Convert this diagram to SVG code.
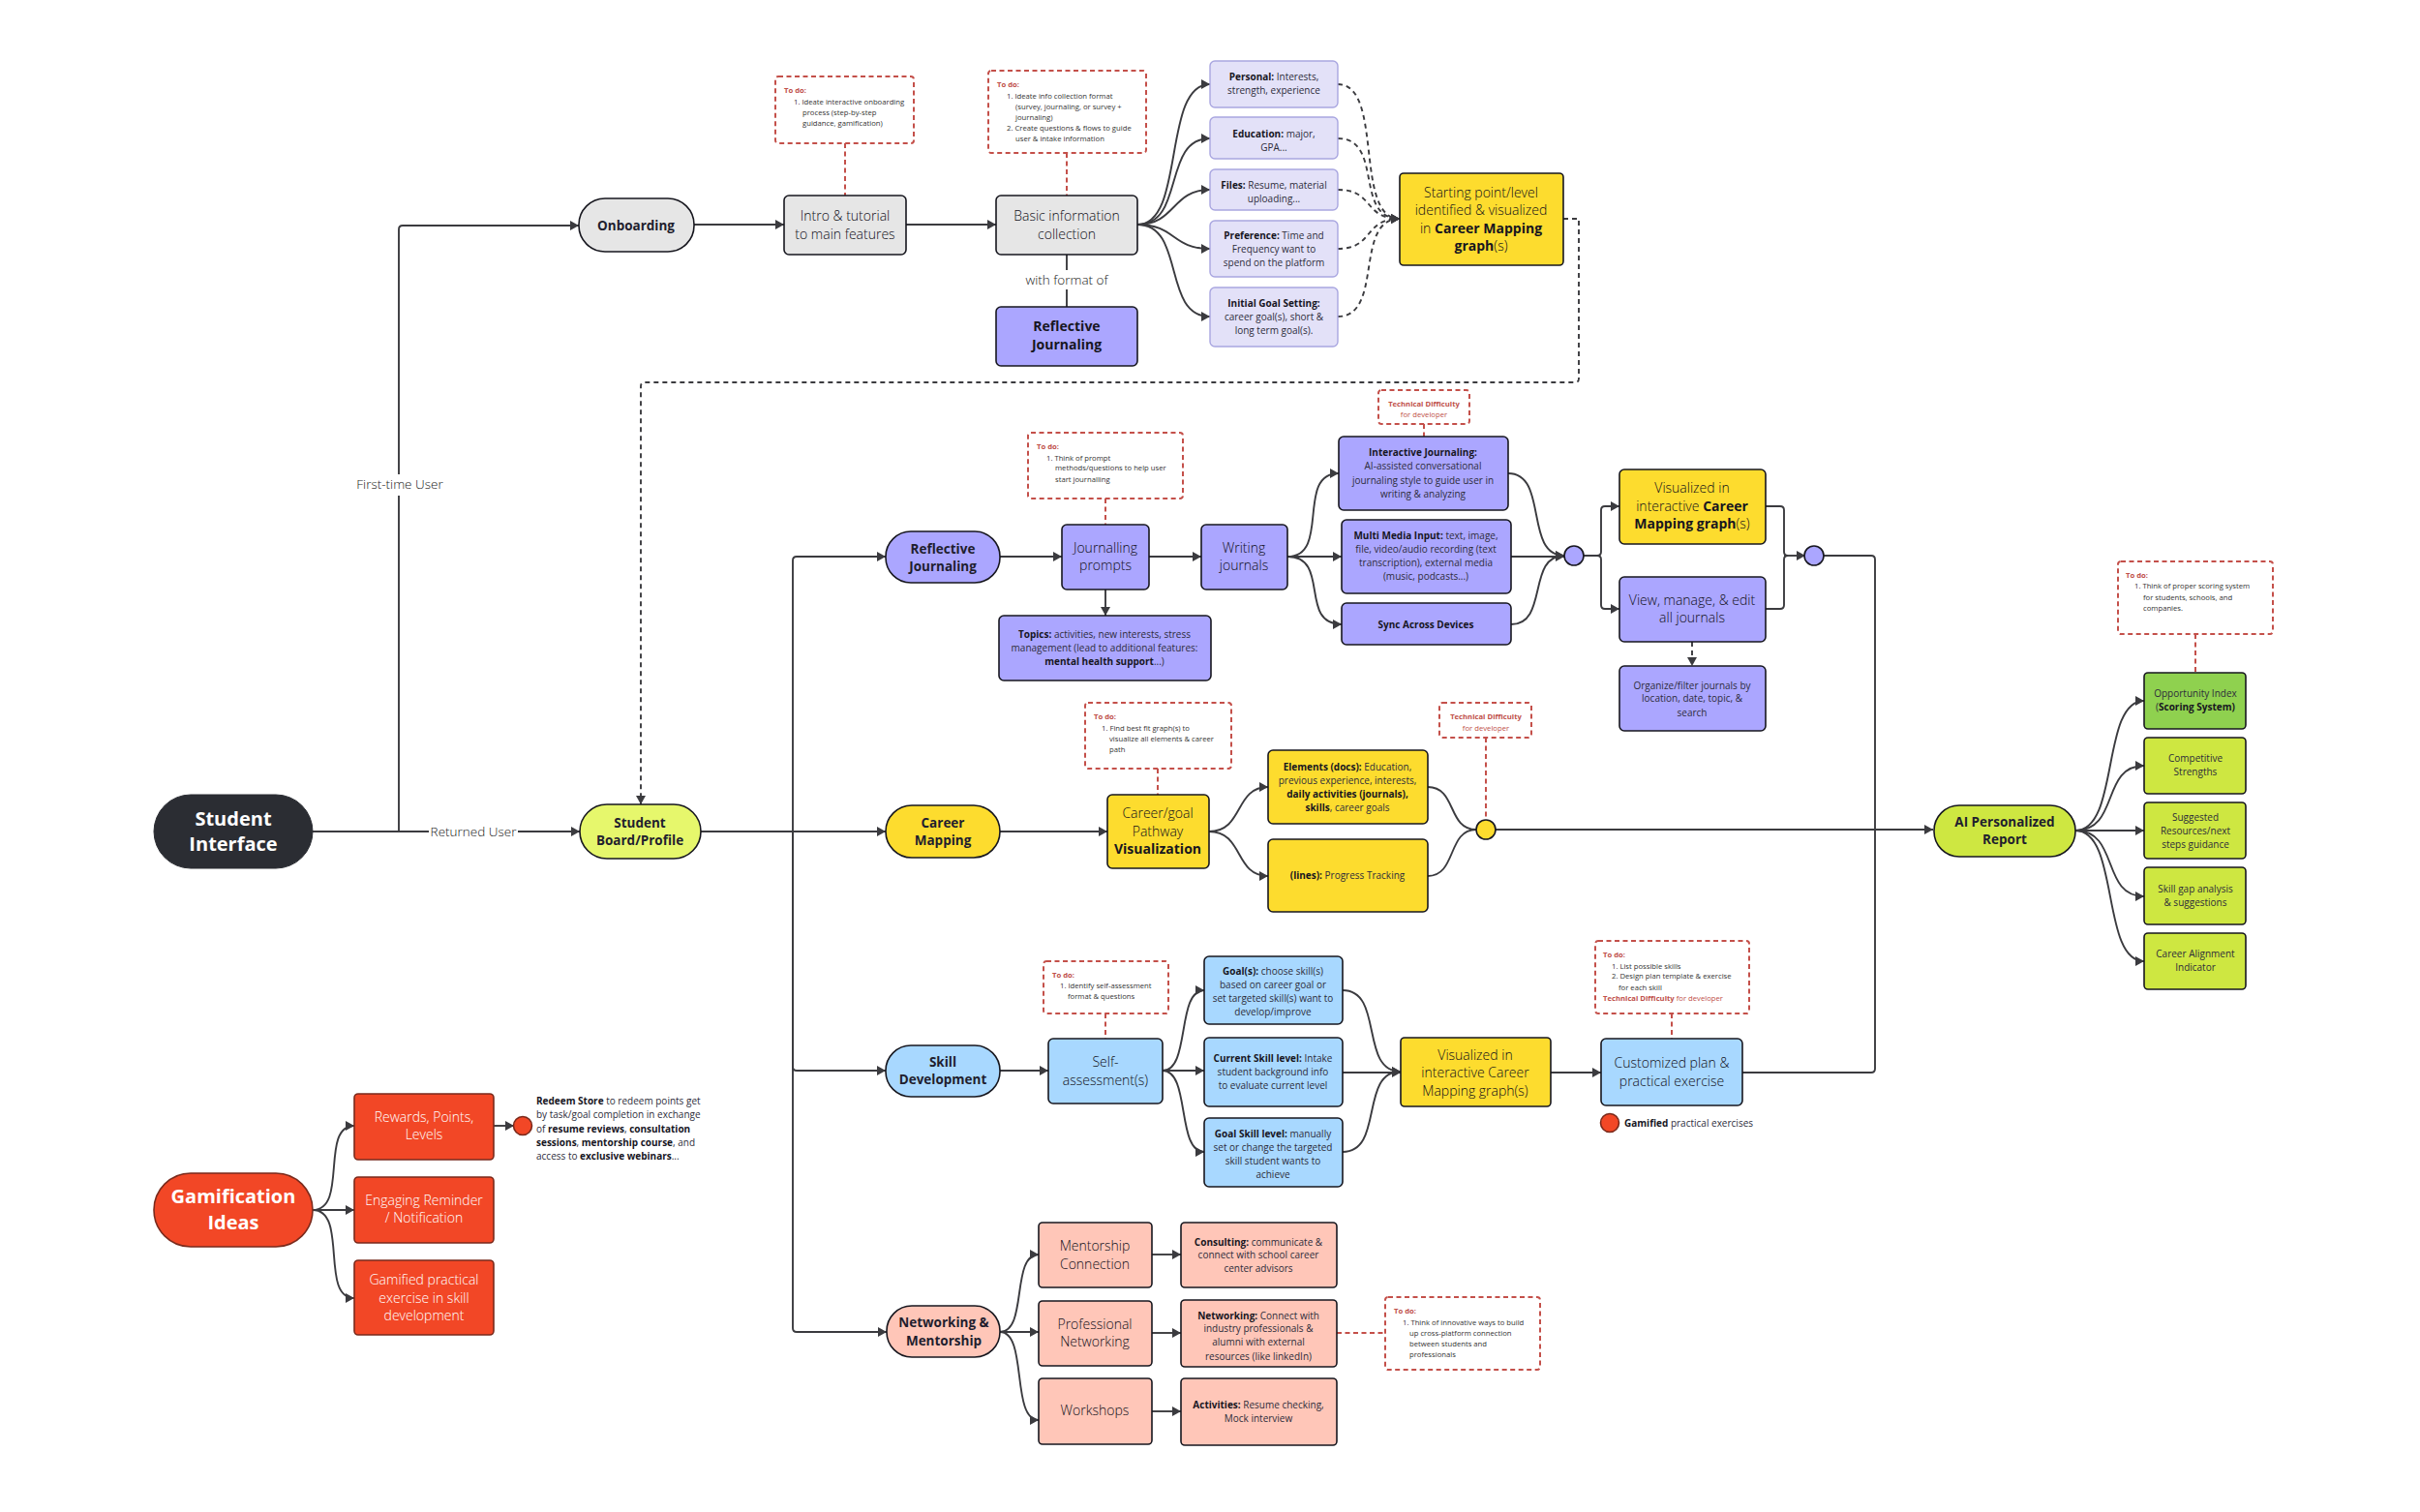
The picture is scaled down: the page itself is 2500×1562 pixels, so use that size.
<svg xmlns="http://www.w3.org/2000/svg" width="2500" height="1562" viewBox="0 0 2500 1562">
<style>
text{font-family:"Open Sans","Noto Sans","Liberation Sans",sans-serif;fill:#2d2c3a}
.c{text-anchor:middle}
.m{font-size:14px;font-weight:300;fill:#100f18}.s{font-size:10px}.n{font-size:7.7px;fill:#333}.l{font-size:13.5px;fill:#181818;font-weight:300}
.p{font-size:13.5px;font-weight:700;text-anchor:middle;fill:#1f1e2e}.h{font-size:20px;font-weight:700;text-anchor:middle;fill:#fff}
.w{fill:#fff}.b{font-weight:700;fill:#17161f}.r{fill:#c0504a;font-weight:700}.rn{fill:#c0504a}
.nd{stroke:#17171f;stroke-width:1.6}
.gray{fill:#e6e6e6}.pur{fill:#aba6ff}.lil{fill:#e3e1f8;stroke:#a9a6e0;stroke-width:1.4}.yel{fill:#fddc2e}.blu{fill:#a8d8ff}.pnk{fill:#ffc6b8}.lim{fill:#cee741}.grn{fill:#8fd14f}.red{fill:#f24726;stroke:#7a2a1c}.drk{fill:#2b2d33;stroke:#2b2d33}.lem{fill:#e6f76c}
.td{fill:#fff;stroke:#c4504a;stroke-width:2;stroke-dasharray:5 3.5}
.cn path{fill:none;stroke:#3b3b3f;stroke-width:1.9}
.cn .d{stroke-dasharray:5 4}
.cn .rd{stroke:#c4504a;stroke-width:2;stroke-dasharray:5 3.5}
.a{marker-end:url(#ar)}
</style>
<defs><marker id="ar" markerUnits="userSpaceOnUse" markerWidth="10" markerHeight="11" refX="9" refY="5" orient="auto"><path d="M0 0L9 5L0 10Z" fill="#3b3b3f"/></marker></defs>
<rect width="2500" height="1562" fill="#fff"/>
<g id="connectors" class="cn">
<path class="a" d="M323 859H599"/>
<path class="a" d="M412 859V237Q412 233 416 233H598"/>
<path class="a" d="M717 232H810"/>
<path class="a" d="M936 232H1029"/>
<path d="M1102 263V317"/>
<path class="a" d="M1175 232C1225 232 1200 87 1250 87"/>
<path class="a" d="M1175 232C1225 232 1200 143 1250 143"/>
<path class="a" d="M1175 232C1215 232 1210 196 1250 196"/>
<path class="a" d="M1175 232C1215 232 1210 257 1250 257"/>
<path class="a" d="M1175 232C1225 232 1200 327 1250 327"/>
<path class="d a" d="M1382 87C1430 87 1398 226 1446 226"/>
<path class="d a" d="M1382 143C1430 143 1398 226 1446 226"/>
<path class="d a" d="M1382 196C1420 196 1408 226 1446 226"/>
<path class="d a" d="M1382 257C1420 257 1408 226 1446 226"/>
<path class="d a" d="M1382 327C1430 327 1398 226 1446 226"/>
<path class="d a" d="M1615 226H1631V391Q1631 395 1627 395H666Q662 395 662 399V831"/>
<path class="a" d="M724 859H915"/>
<path class="a" d="M819 859V579Q819 575 823 575H915"/>
<path class="a" d="M819 859V1102Q819 1106 823 1106H915"/>
<path class="a" d="M819 859V1372Q819 1376 823 1376H916"/>
<path class="a" d="M1033 575H1097"/>
<path class="a" d="M1187 575H1241"/>
<path class="a" d="M1142 609V636"/>
<path class="a" d="M1330 575C1375 575 1338 489 1383 489"/>
<path class="a" d="M1330 575H1386"/>
<path class="a" d="M1330 575C1375 575 1341 645 1386 645"/>
<path class="a" d="M1558 489C1600 489 1574 574 1616 574"/>
<path class="a" d="M1561 575H1616"/>
<path class="a" d="M1561 645C1600 645 1577 574 1616 574"/>
<path class="a" d="M1636 574H1650Q1654 574 1654 570V527Q1654 523 1658 523H1673"/>
<path class="a" d="M1650 574Q1654 574 1654 578V625Q1654 629 1658 629H1673"/>
<path d="M1824 523H1839Q1843 523 1843 527V570Q1843 574 1847 574"/>
<path d="M1824 629H1839Q1843 629 1843 625V578Q1843 574 1847 574"/>
<path class="a" d="M1843 574H1865"/>
<path class="d a" d="M1748 663V688"/>
<path d="M1884 574H1933Q1937 574 1937 578V1104Q1937 1108 1933 1108H1800"/>
<path class="a" d="M1033 859H1144"/>
<path class="a" d="M1249 859C1285 859 1275 813 1310 813"/>
<path class="a" d="M1249 859C1285 859 1275 905 1310 905"/>
<path d="M1475 813C1505 813 1495 857 1525 857"/>
<path d="M1475 905C1505 905 1495 857 1525 857"/>
<path class="a" d="M1545 857H1997"/>
<path class="a" d="M1033 1106H1083"/>
<path class="a" d="M1201 1106C1230 1106 1215 1023 1244 1023"/>
<path class="a" d="M1201 1106H1244"/>
<path class="a" d="M1201 1106C1230 1106 1215 1190 1244 1190"/>
<path class="a" d="M1387 1023C1430 1023 1404 1107 1447 1107"/>
<path class="a" d="M1387 1108H1447"/>
<path class="a" d="M1387 1190C1430 1190 1404 1107 1447 1107"/>
<path class="a" d="M1602 1108H1654"/>
<path class="a" d="M1033 1376C1062 1376 1044 1296 1073 1296"/>
<path class="a" d="M1033 1376H1073"/>
<path class="a" d="M1033 1376C1062 1376 1044 1467 1073 1467"/>
<path class="a" d="M1190 1296H1220"/>
<path class="a" d="M1190 1377H1220"/>
<path class="a" d="M1190 1458H1220"/>
<path class="a" d="M2144 858C2190 858 2170 724 2215 724"/>
<path class="a" d="M2144 858C2190 858 2170 791 2215 791"/>
<path class="a" d="M2144 858H2215"/>
<path class="a" d="M2144 858C2190 858 2170 926 2215 926"/>
<path class="a" d="M2144 858C2190 858 2170 993 2215 993"/>
<path class="a" d="M323 1250C360 1250 330 1163 366 1163"/>
<path class="a" d="M323 1250H366"/>
<path class="a" d="M323 1250C360 1250 330 1341 366 1341"/>
<path class="a" d="M510 1163H531"/>
<path class="rd" d="M873 148V202"/>
<path class="rd" d="M1102 158V202"/>
<path class="rd" d="M1471 438V451"/>
<path class="rd" d="M1142 515V542"/>
<path class="rd" d="M1196 794V821"/>
<path class="rd" d="M1535 762V847"/>
<path class="rd" d="M1142 1047V1073"/>
<path class="rd" d="M1727 1047V1073"/>
<path class="rd" d="M1381 1377H1431"/>
<path class="rd" d="M2268 655V695"/>
<rect x="365" y="490" width="96" height="22" fill="#fff"/>
<text class="l c" x="413" y="505">First-time User</text>
<rect x="443" y="849" width="92" height="20" fill="#fff"/>
<text class="l c" x="489" y="864">Returned User</text>
<rect x="1050" y="279" width="104" height="20" fill="#fff"/>
<text class="l c" x="1102" y="294">with format of</text>
</g>
<g id="student-interface"><rect class="drk" x="159" y="821" width="164" height="76" rx="38"/><text class="h"><tspan x="241" y="853">Student</tspan><tspan x="241" y="879">Interface</tspan></text></g>
<g id="onboarding"><rect class="nd gray" x="598" y="205" width="119" height="55" rx="27"/><text class="p"><tspan x="657" y="238">Onboarding</tspan></text></g>
<g id="todo-onboarding"><rect class="td" x="801" y="79" width="143" height="69" rx="3"/><text class="n"><tspan class="r" x="810" y="96">To do:</tspan><tspan x="820" y="108">1. Ideate interactive onboarding</tspan><tspan x="829" y="119">process (step-by-step</tspan><tspan x="829" y="130">guidance, gamification)</tspan></text></g>
<g id="intro"><rect class="nd gray" x="810" y="202" width="126" height="61" rx="5"/><text class="m c"><tspan x="873" y="228">Intro &amp; tutorial</tspan><tspan x="873" y="247">to main features</tspan></text></g>
<g id="todo-info"><rect class="td" x="1021" y="73" width="163" height="85" rx="3"/><text class="n"><tspan class="r" x="1030" y="90">To do:</tspan><tspan x="1040" y="102">1. Ideate info collection format</tspan><tspan x="1049" y="113">(survey, journaling, or survey +</tspan><tspan x="1049" y="124">journaling)</tspan><tspan x="1040" y="135">2. Create questions &amp; flows to guide</tspan><tspan x="1049" y="146">user &amp; intake information</tspan></text></g>
<g id="basic-info"><rect class="nd gray" x="1029" y="202" width="146" height="61" rx="5"/><text class="m c"><tspan x="1102" y="228">Basic information</tspan><tspan x="1102" y="247">collection</tspan></text></g>
<g id="reflective-format"><rect class="nd pur" x="1029" y="317" width="146" height="61" rx="5"/><text class="m c b"><tspan x="1102" y="342">Reflective</tspan><tspan x="1102" y="361">Journaling</tspan></text></g>
<g id="personal"><rect class="lil" x="1250" y="63" width="132" height="48" rx="5"/><text class="s c"><tspan x="1316" y="83"><tspan class="b">Personal:</tspan> Interests,</tspan><tspan x="1316" y="97">strength, experience</tspan></text></g>
<g id="education"><rect class="lil" x="1250" y="121" width="132" height="43" rx="5"/><text class="s c"><tspan x="1316" y="142"><tspan class="b">Education:</tspan> major,</tspan><tspan x="1316" y="156">GPA...</tspan></text></g>
<g id="files"><rect class="lil" x="1250" y="175" width="132" height="42" rx="5"/><text class="s c"><tspan x="1316" y="195"><tspan class="b">Files:</tspan> Resume, material</tspan><tspan x="1316" y="209">uploading...</tspan></text></g>
<g id="preference"><rect class="lil" x="1250" y="228" width="132" height="58" rx="5"/><text class="s c"><tspan x="1316" y="247"><tspan class="b">Preference:</tspan> Time and</tspan><tspan x="1316" y="261">Frequency want to</tspan><tspan x="1316" y="275">spend on the platform</tspan></text></g>
<g id="initial-goal"><rect class="lil" x="1250" y="297" width="132" height="61" rx="5"/><text class="s c"><tspan class="b" x="1316" y="317">Initial Goal Setting:</tspan><tspan x="1316" y="331">career goal(s), short &amp;</tspan><tspan x="1316" y="345">long term goal(s).</tspan></text></g>
<g id="starting-point"><rect class="nd yel" x="1446" y="179" width="169" height="95" rx="4"/><text class="m c"><tspan x="1530" y="204">Starting point/level</tspan><tspan x="1530" y="222">identified &amp; visualized</tspan><tspan x="1530" y="241">in <tspan class="b">Career Mapping</tspan></tspan><tspan x="1530" y="259"><tspan class="b">graph</tspan>(s)</tspan></text></g>
<g id="student-board"><rect class="nd lem" x="599" y="831" width="125" height="56" rx="28"/><text class="p"><tspan x="661" y="855">Student</tspan><tspan x="661" y="873">Board/Profile</tspan></text></g>
<g id="reflective-journaling"><rect class="nd pur" x="915" y="549" width="118" height="53" rx="26"/><text class="p"><tspan x="974" y="572">Reflective</tspan><tspan x="974" y="590">Journaling</tspan></text></g>
<g id="todo-prompts"><rect class="td" x="1062" y="447" width="160" height="68" rx="3"/><text class="n"><tspan class="r" x="1071" y="464">To do:</tspan><tspan x="1081" y="476">1. Think of prompt</tspan><tspan x="1090" y="486">methods/questions to help user</tspan><tspan x="1090" y="498">start journalling</tspan></text></g>
<g id="journalling-prompts"><rect class="nd pur" x="1097" y="542" width="90" height="67" rx="5"/><text class="m c"><tspan x="1142" y="571">Journalling</tspan><tspan x="1142" y="589">prompts</tspan></text></g>
<g id="writing-journals"><rect class="nd pur" x="1241" y="542" width="89" height="67" rx="5"/><text class="m c"><tspan x="1285" y="571">Writing</tspan><tspan x="1285" y="589">journals</tspan></text></g>
<g id="topics"><rect class="nd pur" x="1032" y="636" width="219" height="67" rx="5"/><text class="s c"><tspan x="1141" y="659"><tspan class="b">Topics:</tspan> activities, new interests, stress</tspan><tspan x="1141" y="673">management (lead to additional features:</tspan><tspan x="1141" y="687"><tspan class="b">mental health support</tspan>...)</tspan></text></g>
<g id="tech-journaling"><rect class="td" x="1424" y="403" width="94" height="35" rx="3"/><text class="n c"><tspan class="r" x="1471" y="420">Technical Difficulty</tspan><tspan class="rn" x="1471" y="431">for developer</tspan></text></g>
<g id="interactive-journaling"><rect class="nd pur" x="1383" y="451" width="175" height="76" rx="5"/><text class="s c"><tspan class="b" x="1470" y="471">Interactive Journaling:</tspan><tspan x="1470" y="485">AI-assisted conversational</tspan><tspan x="1470" y="500">journaling style to guide user in</tspan><tspan x="1470" y="514">writing &amp; analyzing</tspan></text></g>
<g id="multi-media"><rect class="nd pur" x="1386" y="537" width="175" height="76" rx="5"/><text class="s c"><tspan x="1473" y="557"><tspan class="b">Multi Media Input:</tspan> text, image,</tspan><tspan x="1473" y="571">file, video/audio recording (text</tspan><tspan x="1473" y="585">transcription), external media</tspan><tspan x="1473" y="599">(music, podcasts...)</tspan></text></g>
<g id="sync"><rect class="nd pur" x="1386" y="623" width="175" height="43" rx="5"/><text class="s c b" x="1473" y="649">Sync Across Devices</text></g>
<g id="merge-journal"><circle class="nd pur" cx="1626" cy="574" r="10"/></g>
<g id="visualized-journal"><rect class="nd yel" x="1673" y="485" width="151" height="77" rx="5"/><text class="m c"><tspan x="1748" y="509">Visualized in</tspan><tspan x="1748" y="528">interactive <tspan class="b">Career</tspan></tspan><tspan x="1748" y="546"><tspan class="b">Mapping graph</tspan>(s)</tspan></text></g>
<g id="view-manage"><rect class="nd pur" x="1673" y="596" width="151" height="67" rx="5"/><text class="m c"><tspan x="1748" y="625">View, manage, &amp; edit</tspan><tspan x="1748" y="643">all journals</tspan></text></g>
<g id="organize"><rect class="nd pur" x="1673" y="688" width="151" height="67" rx="5"/><text class="s c"><tspan x="1748" y="712">Organize/filter journals by</tspan><tspan x="1748" y="725">location, date, topic, &amp;</tspan><tspan x="1748" y="740">search</tspan></text></g>
<g id="merge-report"><circle class="nd pur" cx="1874" cy="574" r="10"/></g>
<g id="career-mapping"><rect class="nd yel" x="915" y="832" width="118" height="54" rx="27"/><text class="p"><tspan x="974" y="855">Career</tspan><tspan x="974" y="873">Mapping</tspan></text></g>
<g id="todo-pathway"><rect class="td" x="1121" y="726" width="151" height="68" rx="3"/><text class="n"><tspan class="r" x="1130" y="743">To do:</tspan><tspan x="1138" y="755">1. Find best fit graph(s) to</tspan><tspan x="1146" y="766">visualize all elements &amp; career</tspan><tspan x="1146" y="777">path</tspan></text></g>
<g id="pathway"><rect class="nd yel" x="1144" y="821" width="105" height="76" rx="5"/><text class="m c"><tspan x="1196" y="845">Career/goal</tspan><tspan x="1196" y="864">Pathway</tspan><tspan class="b" x="1196" y="882">Visualization</tspan></text></g>
<g id="elements"><rect class="nd yel" x="1310" y="775" width="165" height="76" rx="5"/><text class="s c"><tspan x="1392" y="796"><tspan class="b">Elements (docs):</tspan> Education,</tspan><tspan x="1392" y="810">previous experience, interests,</tspan><tspan class="b" x="1392" y="824">daily activities (journals),</tspan><tspan x="1392" y="838"><tspan class="b">skills</tspan>, career goals</tspan></text></g>
<g id="lines"><rect class="nd yel" x="1310" y="867" width="165" height="75" rx="5"/><text class="s c" x="1392" y="908"><tspan class="b">(lines):</tspan> Progress Tracking</text></g>
<g id="tech-career"><rect class="td" x="1487" y="726" width="95" height="36" rx="3"/><text class="n c"><tspan class="r" x="1535" y="743">Technical Difficulty</tspan><tspan class="rn" x="1535" y="755">for developer</tspan></text></g>
<g id="merge-career"><circle class="nd yel" cx="1535" cy="857" r="10"/></g>
<g id="skill-development"><rect class="nd blu" x="915" y="1080" width="118" height="53" rx="26"/><text class="p"><tspan x="974" y="1102">Skill</tspan><tspan x="974" y="1120">Development</tspan></text></g>
<g id="todo-self"><rect class="td" x="1078" y="993" width="129" height="54" rx="3"/><text class="n"><tspan class="r" x="1087" y="1010">To do:</tspan><tspan x="1095" y="1021">1. Identify self-assessment</tspan><tspan x="1103" y="1032">format &amp; questions</tspan></text></g>
<g id="self-assessment"><rect class="nd blu" x="1083" y="1073" width="118" height="67" rx="5"/><text class="m c"><tspan x="1142" y="1102">Self-</tspan><tspan x="1142" y="1121">assessment(s)</tspan></text></g>
<g id="goals"><rect class="nd blu" x="1244" y="988" width="143" height="70" rx="5"/><text class="s c"><tspan x="1315" y="1007"><tspan class="b">Goal(s):</tspan> choose skill(s)</tspan><tspan x="1315" y="1021">based on career goal or</tspan><tspan x="1315" y="1035">set targeted skill(s) want to</tspan><tspan x="1315" y="1049">develop/improve</tspan></text></g>
<g id="current-skill"><rect class="nd blu" x="1244" y="1072" width="143" height="71" rx="5"/><text class="s c"><tspan x="1315" y="1097"><tspan class="b">Current Skill level:</tspan> Intake</tspan><tspan x="1315" y="1111">student background info</tspan><tspan x="1315" y="1125">to evaluate current level</tspan></text></g>
<g id="goal-skill"><rect class="nd blu" x="1244" y="1155" width="143" height="71" rx="5"/><text class="s c"><tspan x="1315" y="1175"><tspan class="b">Goal Skill level:</tspan> manually</tspan><tspan x="1315" y="1189">set or change the targeted</tspan><tspan x="1315" y="1203">skill student wants to</tspan><tspan x="1315" y="1217">achieve</tspan></text></g>
<g id="visualized-skill"><rect class="nd yel" x="1447" y="1072" width="155" height="71" rx="4"/><text class="m c"><tspan x="1524" y="1095">Visualized in</tspan><tspan x="1524" y="1113">interactive Career</tspan><tspan x="1524" y="1132">Mapping graph(s)</tspan></text></g>
<g id="todo-plan"><rect class="td" x="1648" y="972" width="159" height="75" rx="3"/><text class="n"><tspan class="r" x="1656" y="989">To do:</tspan><tspan x="1665" y="1001">1. List possible skills</tspan><tspan x="1665" y="1011">2. Design plan template &amp; exercise</tspan><tspan x="1672" y="1023">for each skill</tspan><tspan x="1656" y="1034"><tspan class="r">Technical Difficulty</tspan><tspan class="rn"> for developer</tspan></tspan></text></g>
<g id="customized-plan"><rect class="nd blu" x="1654" y="1073" width="146" height="69" rx="5"/><text class="m c"><tspan x="1727" y="1103">Customized plan &amp;</tspan><tspan x="1727" y="1122">practical exercise</tspan></text></g>
<g id="gamified-note"><circle class="nd red" cx="1663" cy="1160" r="9.5"/><text class="s" x="1678" y="1164"><tspan class="b">Gamified</tspan> practical exercises</text></g>
<g id="networking-mentorship"><rect class="nd pnk" x="916" y="1349" width="117" height="53" rx="26"/><text class="p"><tspan x="975" y="1371">Networking &amp;</tspan><tspan x="975" y="1390">Mentorship</tspan></text></g>
<g id="mentorship"><rect class="nd pnk" x="1073" y="1263" width="117" height="67" rx="4"/><text class="m c"><tspan x="1131" y="1292">Mentorship</tspan><tspan x="1131" y="1311">Connection</tspan></text></g>
<g id="professional"><rect class="nd pnk" x="1073" y="1344" width="117" height="67" rx="4"/><text class="m c"><tspan x="1131" y="1373">Professional</tspan><tspan x="1131" y="1391">Networking</tspan></text></g>
<g id="workshops"><rect class="nd pnk" x="1073" y="1424" width="117" height="68" rx="4"/><text class="m c" x="1131" y="1462">Workshops</text></g>
<g id="consulting"><rect class="nd pnk" x="1220" y="1263" width="161" height="67" rx="4"/><text class="s c"><tspan x="1300" y="1287"><tspan class="b">Consulting:</tspan> communicate &amp;</tspan><tspan x="1300" y="1300">connect with school career</tspan><tspan x="1300" y="1314">center advisors</tspan></text></g>
<g id="networking"><rect class="nd pnk" x="1220" y="1343" width="161" height="69" rx="4"/><text class="s c"><tspan x="1300" y="1363"><tspan class="b">Networking:</tspan> Connect with</tspan><tspan x="1300" y="1376">industry professionals &amp;</tspan><tspan x="1300" y="1390">alumni with external</tspan><tspan x="1300" y="1405">resources (like linkedIn)</tspan></text></g>
<g id="activities"><rect class="nd pnk" x="1220" y="1424" width="161" height="69" rx="4"/><text class="s c"><tspan x="1300" y="1455"><tspan class="b">Activities:</tspan> Resume checking,</tspan><tspan x="1300" y="1469">Mock interview</tspan></text></g>
<g id="todo-networking"><rect class="td" x="1431" y="1340" width="160" height="75" rx="3"/><text class="n"><tspan class="r" x="1440" y="1357">To do:</tspan><tspan x="1449" y="1369">1. Think of innovative ways to build</tspan><tspan x="1456" y="1380">up cross-platform connection</tspan><tspan x="1456" y="1391">between students and</tspan><tspan x="1456" y="1402">professionals</tspan></text></g>
<g id="ai-report"><rect class="nd lim" x="1998" y="832" width="146" height="53" rx="26"/><text class="p"><tspan x="2071" y="854">AI Personalized</tspan><tspan x="2071" y="872">Report</tspan></text></g>
<g id="todo-scoring"><rect class="td" x="2188" y="580" width="160" height="75" rx="3"/><text class="n"><tspan class="r" x="2196" y="597">To do:</tspan><tspan x="2205" y="608">1. Think of proper scoring system</tspan><tspan x="2214" y="620">for students, schools, and</tspan><tspan x="2214" y="631">companies.</tspan></text></g>
<g id="opportunity"><rect class="nd grn" x="2215" y="695" width="105" height="58" rx="4"/><text class="s c"><tspan x="2268" y="720">Opportunity Index</tspan><tspan x="2268" y="734">(<tspan class="b">Scoring System)</tspan></tspan></text></g>
<g id="strengths"><rect class="nd lim" x="2215" y="762" width="105" height="58" rx="4"/><text class="s c"><tspan x="2268" y="787">Competitive</tspan><tspan x="2268" y="801">Strengths</tspan></text></g>
<g id="suggested"><rect class="nd lim" x="2215" y="829" width="105" height="58" rx="4"/><text class="s c"><tspan x="2268" y="848">Suggested</tspan><tspan x="2268" y="862">Resources/next</tspan><tspan x="2268" y="876">steps guidance</tspan></text></g>
<g id="skill-gap"><rect class="nd lim" x="2215" y="896" width="105" height="59" rx="4"/><text class="s c"><tspan x="2268" y="922">Skill gap analysis</tspan><tspan x="2268" y="936">&amp; suggestions</tspan></text></g>
<g id="alignment"><rect class="nd lim" x="2215" y="964" width="105" height="58" rx="4"/><text class="s c"><tspan x="2268" y="989">Career Alignment</tspan><tspan x="2268" y="1003">Indicator</tspan></text></g>
<g id="gamification"><rect class="nd red" x="159" y="1212" width="164" height="76" rx="38"/><text class="h"><tspan x="241" y="1243">Gamification</tspan><tspan x="241" y="1270">Ideas</tspan></text></g>
<g id="rewards"><rect class="nd red" x="366" y="1130" width="144" height="68" rx="4"/><text class="m c"><tspan class="w" x="438" y="1159">Rewards, Points,</tspan><tspan class="w" x="438" y="1177">Levels</tspan></text></g>
<g id="engaging"><rect class="nd red" x="366" y="1216" width="144" height="68" rx="4"/><text class="m c"><tspan class="w" x="438" y="1245">Engaging Reminder</tspan><tspan class="w" x="438" y="1263">/ Notification</tspan></text></g>
<g id="gamified-exercise"><rect class="nd red" x="366" y="1302" width="144" height="77" rx="4"/><text class="m c"><tspan class="w" x="438" y="1327">Gamified practical</tspan><tspan class="w" x="438" y="1346">exercise in skill</tspan><tspan class="w" x="438" y="1364">development</tspan></text></g>
<g id="redeem"><circle class="nd red" cx="540" cy="1163" r="9.5"/><text class="s"><tspan x="554" y="1141"><tspan class="b">Redeem Store</tspan> to redeem points get</tspan><tspan x="554" y="1155">by task/goal completion in exchange</tspan><tspan x="554" y="1170">of <tspan class="b">resume reviews</tspan>, <tspan class="b">consultation</tspan></tspan><tspan x="554" y="1184"><tspan class="b">sessions</tspan>, <tspan class="b">mentorship course</tspan>, and</tspan><tspan x="554" y="1198">access to <tspan class="b">exclusive webinars</tspan>...</tspan></text></g>
</svg>
